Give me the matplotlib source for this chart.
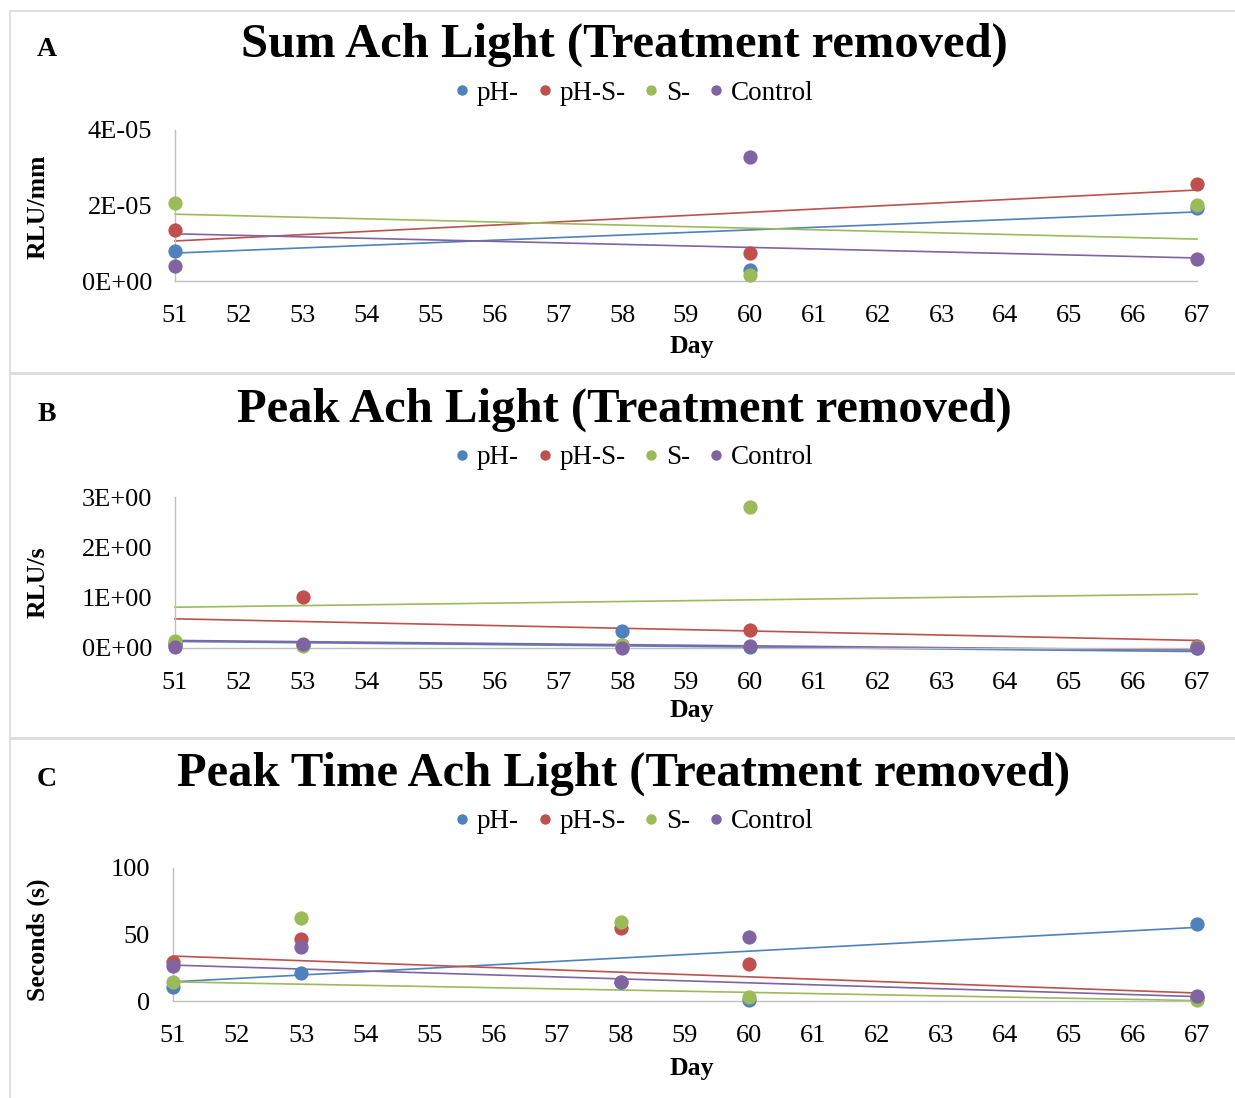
import matplotlib
matplotlib.use("Agg")
import matplotlib.pyplot as plt
from matplotlib.lines import Line2D
from matplotlib.patches import Rectangle
from matplotlib.ticker import FuncFormatter
import numpy as np

plt.rcParams['font.family'] = ['Liberation Serif', 'DejaVu Serif']

W, H = 1235, 1098

series = ["pH-", "pH-S-", "S-", "Control"]
colors = ["#4F81BD", "#C0504D", "#9BBB59", "#8064A2"]

# Panel A: sum of light per mm
days_a = [51, 60, 67]
sum_ph = [0.79e-5, 0.29e-5, 1.93e-5]
sum_phs = [1.35e-5, 0.74e-5, 2.57e-5]
sum_s = [2.07e-5, 0.16e-5, 2.01e-5]
sum_ctrl = [0.40e-5, 3.28e-5, 0.58e-5]
# linear trendlines, value at day 51 and day 67
sum_fit51 = [0.74e-5, 1.06e-5, 1.77e-5, 1.25e-5]
sum_fit67 = [1.83e-5, 2.41e-5, 1.11e-5, 0.61e-5]

# Panel B: peak light
days_b = [51, 53, 58, 60, 67]
peak_ph = [0.10, 0.06, 0.34, 0.02, 0.00]
peak_phs = [0.05, 1.02, 0.05, 0.35, 0.03]
peak_s = [0.13, 0.03, 0.06, 2.80, 0.01]
peak_ctrl = [0.02, 0.08, 0.00, 0.03, 0.00]
peak_fit51 = [0.13, 0.58, 0.81, 0.15]
peak_fit67 = [-0.07, 0.15, 1.07, -0.04]

# Panel C: time to peak
days_c = [51, 53, 58, 60, 67]
time_ph = [10.6, 21.4, 14.0, 0.5, 57.9]
time_phs = [29.0, 46.6, 55.1, 27.5, 2.0]
time_s = [14.4, 62.2, 59.7, 3.3, 1.0]
time_ctrl = [26.5, 40.3, 14.4, 48.1, 3.5]
time_fit51 = [14.4, 33.8, 14.4, 27.0]
time_fit67 = [55.4, 6.0, 0.3, 3.3]

x_ticks = list(range(51, 68))


def fx(px):
    return px / W


def fy(py):
    return 1 - py / H


def excel_sci(v, pos):
    return "%.0E" % v


def draw_panel(fig, rect, days, values, fit51, fit67, yticks, ylim, sci,
               letter, title, ylabel, top, ylabel_y, day_y):
    ax = fig.add_axes(rect)
    for i in range(4):
        ax.plot([51, 67], [fit51[i], fit67[i]], color=colors[i], lw=1.2,
                clip_on=False, zorder=2)
    for i in range(4):
        ax.scatter(days, values[i], s=105, color=colors[i], zorder=3,
                   clip_on=False, linewidths=0)
    ax.set_xlim(51, 67)
    ax.set_ylim(*ylim)
    ax.set_xticks(x_ticks)
    ax.set_yticks(yticks)
    if sci:
        ax.yaxis.set_major_formatter(FuncFormatter(excel_sci))
    ax.tick_params(length=0, labelsize=19, colors="#000000")
    ax.tick_params(axis="x", pad=17)
    ax.tick_params(axis="y", pad=16.5)
    for s in ["top", "right"]:
        ax.spines[s].set_visible(False)
    for s in ["left", "bottom"]:
        ax.spines[s].set_color("#bfbfbf")
        ax.spines[s].set_linewidth(1.0)

    fig.text(fx(47), fy(top + 7), letter, fontsize=20, fontweight="bold",
             ha="center", va="center")
    fig.text(fx(624), fy(top + 2), title, fontsize=35, fontweight="bold",
             ha="center", va="center")
    handles = [Line2D([], [], marker="o", ls="none", color=c, markersize=7.5,
                      markeredgewidth=0) for c in colors]
    fig.legend(handles, series, loc="center",
               bbox_to_anchor=(fx(631), fy(top + 50)), ncol=4, frameon=False,
               fontsize=19.5, handletextpad=0.05, columnspacing=0.45,
               handlelength=1.0, borderpad=0)
    fig.text(fx(38), fy(ylabel_y), ylabel, fontsize=18.5, fontweight="bold",
             rotation=90, ha="center", va="center")
    fig.text(fx(692), fy(day_y), "Day", fontsize=18.5, fontweight="bold",
             ha="center", va="center")
    return ax


def main():
    fig = plt.figure(figsize=(W / 100, H / 100), dpi=100)

    # light frames around each panel
    for y0, y1 in [(11, 373), (374, 738), (739, 1100)]:
        fig.patches.append(Rectangle((fx(10), fy(y1)), fx(1240) - fx(10),
                                     fy(y0) - fy(y1), transform=fig.transFigure,
                                     fill=False, edgecolor="#d9d9d9", lw=1.2))

    draw_panel(fig, [fx(175), fy(281), fx(1022), 151 / H], days_a,
               [sum_ph, sum_phs, sum_s, sum_ctrl], sum_fit51, sum_fit67,
               [0, 2e-5, 4e-5], (0, 4e-5), True, "A",
               "Sum Ach Light (Treatment removed)", "RLU/mm", 43, 207, 346)

    draw_panel(fig, [fx(175), fy(648), fx(1022), 151 / H], days_b,
               [peak_ph, peak_phs, peak_s, peak_ctrl], peak_fit51, peak_fit67,
               [0, 1, 2, 3], (0, 3), True, "B",
               "Peak Ach Light (Treatment removed)", "RLU/s", 408, 582, 711)

    draw_panel(fig, [fx(173), fy(1001), fx(1024), 133 / H], days_c,
               [time_ph, time_phs, time_s, time_ctrl], time_fit51, time_fit67,
               [0, 50, 100], (0, 100), False, "C",
               "Peak Time Ach Light (Treatment removed)", "Seconds (s)", 772,
               940, 1068)

    fig.savefig("out.png", dpi=100, facecolor="white")


if __name__ == "__main__":
    main()
